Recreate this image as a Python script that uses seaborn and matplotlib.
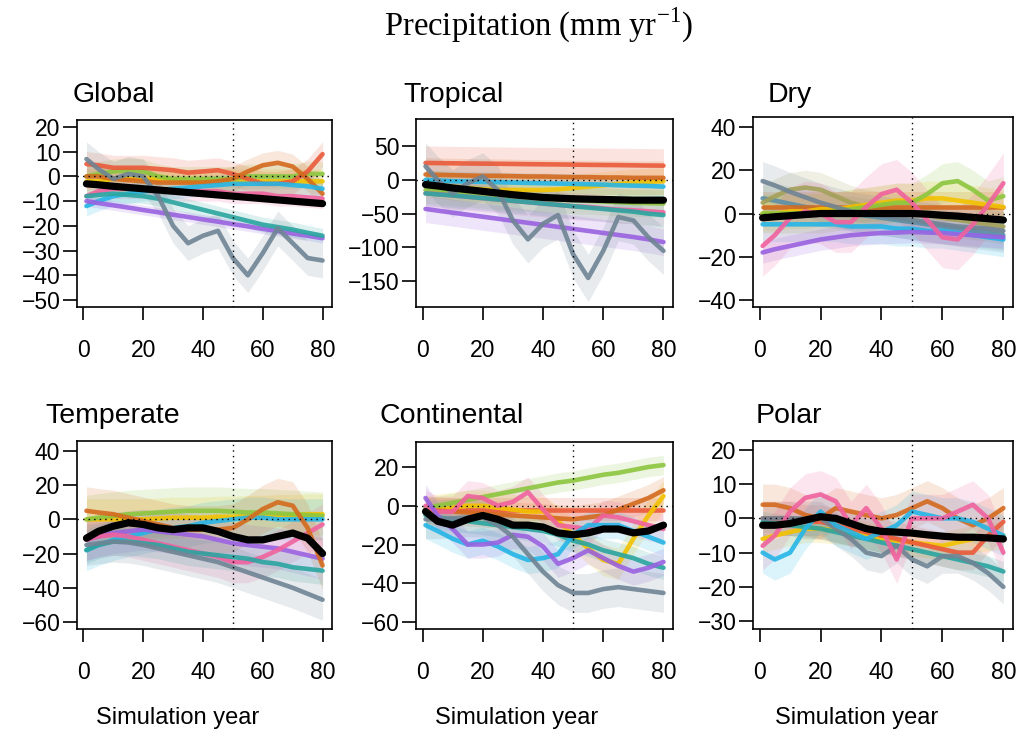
import numpy as np
import pandas as pd
import matplotlib
matplotlib.use("Agg")
import matplotlib.pyplot as plt
import seaborn as sns

sns.set_style("ticks")
plt.rcParams['font.family'] = ['Liberation Sans', 'DejaVu Sans']
plt.rcParams['text.color'] = 'black'
plt.rcParams['xtick.color'] = 'black'
plt.rcParams['ytick.color'] = 'black'
plt.rcParams['lines.solid_joinstyle'] = 'round'
plt.rcParams['lines.solid_capstyle'] = 'round'

# ---------------- data ----------------
years = [1, 5, 10, 15, 20, 25, 30, 35, 40, 45, 50, 55, 60, 65, 70, 75, 80]

panel_names = ["Global", "Tropical", "Dry", "Temperate", "Continental", "Polar"]
x_ticks = [0, 20, 40, 60, 80]
y_ticks = {
    "Global": [20, 10, 0, -10, -20, -30, -40, -50],
    "Tropical": [50, 0, -50, -100, -150],
    "Dry": [40, 20, 0, -20, -40],
    "Temperate": [40, 20, 0, -20, -40, -60],
    "Continental": [20, 0, -20, -40, -60],
    "Polar": [20, 10, 0, -10, -20, -30],
}
y_limits = {
    "Global": (-52.8, 22.8),
    "Tropical": (-188, 90),
    "Dry": (-43.2, 44.6),
    "Temperate": (-64.1, 45.8),
    "Continental": (-63.6, 32.9),
    "Polar": (-32.3, 22.6),
}

colors = {
    "gray": "#6f8494", "purple": "#9a62e0", "teal": "#2aa5a0", "cyan": "#25b5e6",
    "red": "#ea5a3a", "brown": "#d46a1e", "green": "#8cc63f", "yellow": "#f2c200",
    "pink": "#f0629e", "olive": "#a3a05a", "steel": "#5c8fa6", "mean": "#000000",
}

# series values: (name -> values at `years`), band half-widths
global_series = {
    "yellow": [-2, -2, -1, -1, -1, -1, -1.5, -2, -2, -2, -2, -2, -2, -2, -2, -2, -2],
    "green": [0, 1, 2, 2.5, 2, 0, -1, -1, -1, -1, -1, 0, 0, 0, 0, 1, 1],
    "pink": [-8, -6, -5, -5, -5, -5, -6, -6, -6, -6, -7, -7, -7, -8, -8, -8.5, -9],
    "red": [5, 4.5, 3.5, 3.5, 3.5, 3, 2.5, 1.5, 2, 2.5, 1, -1, -3, -3, -2, 2, 9],
    "brown": [0, 0, -1, -1.5, -2, -2.5, -2.5, -2.5, -2.5, -2, -1, 2, 4.5, 5.5, 4, -1, -7],
    "cyan": [-12, -10, -8, -7, -6, -5.5, -5, -4.5, -4, -3.5, -3, -3, -3, -3, -3.5, -4, -5],
    "purple": [-10, -10.8, -11.7, -12.6, -13.6, -14.5, -15.5, -16.4, -17.4, -18.3, -19.3, -20.2, -21.2, -22.1, -23.1, -24, -25],
    "teal": [-8, -7.5, -7, -7.5, -8, -9, -10.5, -12, -13.5, -15, -16.5, -18, -19.5, -20.5, -21.5, -22.8, -24],
    "gray": [7, 3, -1, 1, 0, -8, -20, -27, -24, -22, -33, -40, -31, -21, -27, -33, -34],
    "mean": [-3, -3.4, -4, -4.5, -5, -5.5, -6, -6.5, -7, -7.5, -8, -8.5, -9, -9.5, -10, -10.5, -11],
}
global_bands = {"yellow": 5, "green": 5, "pink": 4, "red": 5, "brown": 5, "cyan": 4,
                "purple": 2, "teal": 3, "gray": 7, "mean": 0}

tropical_series = {
    "yellow": [-5, -7, -10, -12, -14, -15, -15, -15, -15, -14, -12, -10, -8, -6, -4, -3, -2],
    "green": [-15, -16, -18, -20, -22, -24, -25, -27, -28, -29, -30, -31, -32, -33, -34, -34.5, -35],
    "cyan": [0, -1, -2, -2.5, -3, -3.5, -4, -4.5, -5, -5.5, -6, -6.5, -7, -8, -8.5, -9, -10],
    "brown": [8, 7.5, 7, 6.5, 6, 6, 5.5, 5, 5, 4.5, 4, 4, 3.5, 3.5, 3, 3, 3],
    "red": [25, 24.8, 24.5, 24.2, 24, 23.8, 23.5, 23.2, 23, 22.8, 22.5, 22.2, 22, 21.8, 21.5, 21.2, 21],
    "pink": [-20, -21, -23, -25, -27, -29, -31, -33, -35, -37, -39, -40, -42, -44, -45, -46.5, -48],
    "teal": [-20, -21.5, -23, -25, -27, -29, -31, -33, -35, -37, -39, -41, -43, -45, -47, -50, -52],
    "purple": [-43, -45.5, -48.5, -51.5, -54.5, -57.5, -60.5, -63.5, -66.5, -69.5, -72.5, -75.5, -78.5, -81.5, -84.5, -88, -92],
    "gray": [20, 0, -20, -5, 5, -15, -60, -88, -65, -52, -110, -145, -105, -55, -60, -85, -105],
    "mean": [-7, -9, -12, -14.5, -17, -19.5, -22, -24, -26, -27, -28, -28.5, -29, -29.5, -30, -30, -30],
}
tropical_bands = {"yellow": 20, "green": 20, "cyan": 15, "brown": 25, "red": 25, "pink": 20,
                  "teal": 18, "purple": 20, "gray": 35, "mean": 0}

dry_series = {
    "steel": [7, 6, 4.5, 3, 2, 1, 0, -1, -2, -3, -4, -5, -6, -7, -8, -9, -10],
    "olive": [5, 8, 11, 12, 11, 8, 5, 3, 2, 1, 0, -1, -2, -3, -4, -5, -6],
    "brown": [3, 3, 3, 3, 3, 3, 3, 3, 3, 3, 3, 3, 3, 3, 3, 3, 3],
    "yellow": [0, 0, 1, 1, 2, 2, 3, 4, 5, 6, 6, 7, 7, 6, 5, 4, 3],
    "cyan": [-5, -5, -5, -5, -5, -5, -6, -6, -6, -7, -7, -8, -8, -9, -10, -11, -12],
    "green": [0, 0, 0, 0, 0, 1, 2, 3, 4, 5, 5, 9, 14, 15, 11, 6, 8],
    "gray": [15, 13, 10, 7.5, 5, 3, 1, 0, -1, -2, -3, -4, -5, -6, -6.5, -7, -8],
    "purple": [-18, -16.5, -15, -13.5, -12, -11, -10, -9.5, -9, -8.8, -8.5, -8.8, -9, -9.5, -10, -10.5, -11],
    "pink": [-15, -10, -2, 1, 0, -4, -4, 3, 9, 11, 5, -3, -11, -12, -5, 4, 14],
    "mean": [-2, -1.5, -1, -0.5, 0, 0, 0, 0, 0, 0, 0, -0.3, -0.8, -1.2, -1.8, -2.4, -3],
}
dry_bands = {"steel": 8, "olive": 8, "brown": 7, "yellow": 8, "cyan": 8, "green": 9,
             "gray": 9, "purple": 5, "pink": 14, "mean": 0}

temperate_series = {
    "yellow": [0, 0, 0, 0, 0, 0.5, 1, 1, 1, 1.5, 1.5, 2, 2, 2.5, 2.5, 3, 3],
    "green": [0, 1, 2, 3, 3.5, 4, 4.5, 5, 5, 5, 4.5, 4, 4, 3.5, 3, 2.5, 2],
    "cyan": [-18, -15, -12, -10, -8, -6, -5, -4, -2, -1, 0, 1, 1, 0, 0, 0, 0],
    "purple": [-12, -10, -8, -7, -6, -7, -8, -9, -10, -12, -14, -15, -16, -17, -19, -21, -23],
    "pink": [-12, -10, -9, -10, -12, -14, -16, -18, -20, -22, -25, -25, -22, -18, -13, -8, -3],
    "brown": [5, 4, 3, 1, -1, -3, -5, -6, -6, -6, -5, 0, 6, 10, 8, -5, -27],
    "teal": [-18, -15, -13, -13, -14, -15, -17, -19, -20, -21, -22, -23, -25, -26, -28, -29, -30],
    "gray": [-15, -14, -13, -13.5, -15, -17, -19, -21, -23, -25, -28, -31, -34, -37, -40, -43.5, -47],
    "mean": [-11, -7, -4, -2, -3, -5, -6, -5, -5, -7, -10, -12, -12, -10, -8, -11, -20],
}
temperate_bands = {"yellow": 12, "green": 14, "cyan": 12, "purple": 12, "pink": 12, "brown": 14,
                   "teal": 8, "gray": 12, "mean": 0}

continental_series = {
    "red": [-2, -2, -2, -2, -2, -2, -2, -2, -2, -2, -2, -2, -2, -2, -2, -2, -2],
    "yellow": [-3, -2, -1, 0, 0, -1, -2, -3, -3, -8, -15, -22, -28, -30, -17, -5, 5],
    "brown": [-2, -2.5, -3, -3.5, -4, -4.5, -5, -5.5, -6, -6.5, -7, -6, -5, -2, 1, 4, 8],
    "green": [-1, 0, 1.5, 3, 4.5, 6, 7.5, 9, 10.5, 12, 13, 14.5, 16, 17, 18.5, 20, 21],
    "teal": [-5, -6, -7, -8, -9, -10, -11, -12, -13, -15, -18, -20, -23, -25, -27, -30, -32],
    "pink": [0, -3, -3, 5, 4, 0, 2, 7, -2, -10, -11, -12, -5, -6, -8, -10, -12],
    "cyan": [-10, -13, -17, -20, -18, -21, -25, -28, -27, -25, -15, -10, -10, -10, -13, -16, -19],
    "purple": [4, -5, -12, -20, -20, -19, -15, -16, -21, -30, -27, -23, -27, -31, -34, -32, -29],
    "gray": [-7, -7, -6.5, -6, -6, -10, -16, -25, -34, -41, -45, -45, -43, -42, -43, -44, -45],
    "mean": [-3, -8, -10, -7, -5, -7, -10, -10, -11, -14, -15, -14, -12, -12, -14, -13, -10],
}
continental_bands = {"red": 6, "yellow": 8, "brown": 7, "green": 5, "teal": 6, "pink": 8,
                     "cyan": 7, "purple": 7, "gray": 10, "mean": 0}

polar_series = {
    "yellow": [-6, -5, -4, -3, -3, -3.5, -4, -5, -6, -6.5, -7, -7.5, -8, -7, -6, -5.5, -5],
    "red": [0, 0, 0, -1, -1, -2, -3, -4, -5, -6, -7, -8, -9, -10, -10, -5, -1],
    "teal": [-1, -1.5, -2, -2.5, -3, -4, -5, -6, -7, -8, -9, -10, -11, -12, -13, -14, -15.5],
    "gray": [0, 0, 0, 0, 0, -3, -6, -10, -11, -8, -12, -14, -11, -11, -13, -16, -20],
    "brown": [4, 4, 3, 1, 0, 3, 2, 1, 0, 1, 3, 5, 3, 0, -2, 0, 3],
    "cyan": [-10, -12, -10, -3, 2, -2, -4, -6, -4, -2, 2, 1, 0, 0, -1, -3, -5],
    "pink": [-8, -5, 2, 6, 7, 5, -2, 3, -3, -12, 0, 0, 0, 2, 4, 0, -10],
    "mean": [-2, -2, -1.5, -0.5, 0.5, 0, -1.5, -3, -3.8, -4, -4.3, -4.8, -5.2, -5.5, -5.5, -5.7, -6],
}
polar_bands = {"yellow": 4, "red": 5, "teal": 3, "gray": 5, "brown": 6, "cyan": 6, "pink": 7, "mean": 0}

panels = {
    "Global": (global_series, global_bands),
    "Tropical": (tropical_series, tropical_bands),
    "Dry": (dry_series, dry_bands),
    "Temperate": (temperate_series, temperate_bands),
    "Continental": (continental_series, continental_bands),
    "Polar": (polar_series, polar_bands),
}

# ---------------- layout ----------------
W, H = 1021, 740
fig = plt.figure(figsize=(W / 100, H / 100), dpi=100)

boxes = {  # left, top, right, bottom in px
    "Global": (77, 120, 332, 307),
    "Tropical": (416, 119, 673, 307),
    "Dry": (753, 117, 1013, 307),
    "Temperate": (77, 441, 332, 629),
    "Continental": (416, 442, 673, 629),
    "Polar": (753, 441, 1013, 629),
}
title_pos = {"Global": (114, 95), "Tropical": (453, 95), "Dry": (790, 95),
             "Temperate": (113, 416), "Continental": (452, 416), "Polar": (789, 416)}

for name in panel_names:
    l, t, r, b = boxes[name]
    ax = fig.add_axes([l / W, 1 - b / H, (r - l) / W, (b - t) / H])
    series, bands = panels[name]
    for key, vals in series.items():
        vals = np.asarray(vals, dtype=float)
        c = colors[key]
        hw = bands[key]
        if hw > 0:
            ax.fill_between(years, vals - hw, vals + hw, color=c, alpha=0.16, lw=0)
    for key, vals in series.items():
        if key == "mean":
            continue
        sns.lineplot(x=years, y=vals, color=colors[key], lw=3.3, alpha=0.9, ax=ax)
    sns.lineplot(x=years, y=series["mean"], color="black", lw=5.2, ax=ax)
    ax.axhline(0, color="black", ls=(0, (1, 3)), lw=1)
    ax.axvline(50, color="black", ls=(0, (1, 3)), lw=1)
    ax.set_xlim(-2.16, 83.16)
    ax.set_ylim(*y_limits[name])
    ax.set_xticks(x_ticks)
    ax.set_yticks(y_ticks[name])
    ax.set_yticklabels([str(v).replace("-", "\u2212") for v in y_ticks[name]])
    ax.tick_params(axis="x", length=9, width=1.2, pad=14, labelsize=16.5)
    ax.tick_params(axis="y", length=10, width=1.2, pad=2, labelsize=16.5)
    for s in ax.spines.values():
        s.set_visible(True)
        s.set_color("black")
        s.set_linewidth(1.2)
    ax.set_xlabel("")
    ax.set_ylabel("")
    tx, ty = title_pos[name]
    fig.text(tx / W, 1 - ty / H, name, ha="center", va="center", fontsize=20.5)

for cx in (178, 517, 857):
    fig.text(cx / W, 1 - 718 / H, "Simulation year", ha="center", va="center", fontsize=17)

fig.text(538 / W, 1 - 25 / H, r"Precipitation (mm yr$^{\mathregular{-1}}$)",
         ha="center", va="center", fontsize=23.5, family="Liberation Serif")

fig.savefig("out.png", dpi=100)
